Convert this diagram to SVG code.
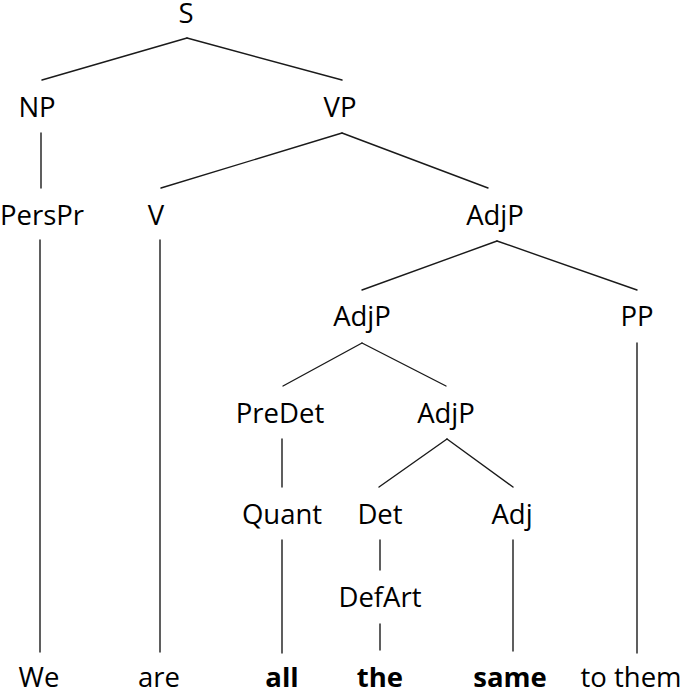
<svg xmlns="http://www.w3.org/2000/svg" width="685" height="691" viewBox="0 0 685 691">
<style>
text{font-family:"Open Sans","Noto Sans","Liberation Sans",sans-serif;font-size:27.5px;fill:#000;text-anchor:middle}
.b{font-weight:bold}
#connectors line{stroke:#1a1a1a;stroke-width:1.4;stroke-linecap:round}
</style>
<rect width="685" height="691" fill="#fff"/>
<g id="connectors">
<line x1="187" y1="38" x2="42" y2="80"/>
<line x1="187" y1="38" x2="342" y2="80"/>
<line x1="41" y1="133" x2="41" y2="188"/>
<line x1="342" y1="133" x2="161" y2="188"/>
<line x1="342" y1="133" x2="488" y2="188"/>
<line x1="40" y1="240" x2="40" y2="652"/>
<line x1="160" y1="240" x2="160" y2="652"/>
<line x1="497" y1="241" x2="362" y2="290"/>
<line x1="497" y1="241" x2="637" y2="290"/>
<line x1="362" y1="343" x2="283" y2="386"/>
<line x1="362" y1="343" x2="446" y2="386"/>
<line x1="637" y1="343" x2="637" y2="653"/>
<line x1="282" y1="439" x2="282" y2="487"/>
<line x1="447" y1="439" x2="379" y2="487"/>
<line x1="447" y1="439" x2="513" y2="487"/>
<line x1="282" y1="540" x2="282" y2="653"/>
<line x1="380" y1="540" x2="380" y2="570"/>
<line x1="513" y1="540" x2="513" y2="651"/>
<line x1="380" y1="624" x2="380" y2="650"/>
</g>
<g id="S"><text x="186" y="23">S</text></g>
<g id="NP"><text x="37" y="117">NP</text></g>
<g id="VP"><text x="340" y="117">VP</text></g>
<g id="PersPr"><text x="42" y="225">PersPr</text></g>
<g id="V"><text x="156" y="225">V</text></g>
<g id="AdjP1"><text x="495" y="225">AdjP</text></g>
<g id="AdjP2"><text x="362" y="326">AdjP</text></g>
<g id="PP"><text x="637" y="326">PP</text></g>
<g id="PreDet"><text x="280" y="423">PreDet</text></g>
<g id="AdjP3"><text x="446" y="423">AdjP</text></g>
<g id="Quant"><text x="282" y="524">Quant</text></g>
<g id="Det"><text x="380" y="524">Det</text></g>
<g id="Adj"><text x="512" y="524">Adj</text></g>
<g id="DefArt"><text x="380" y="607">DefArt</text></g>
<g id="We"><text x="39" y="687">We</text></g>
<g id="are"><text x="159" y="687">are</text></g>
<g id="all"><text class="b" x="282" y="687">all</text></g>
<g id="the"><text class="b" x="380" y="687">the</text></g>
<g id="same"><text class="b" x="510" y="687">same</text></g>
<g id="tothem"><text x="631" y="687">to them</text></g>
</svg>
